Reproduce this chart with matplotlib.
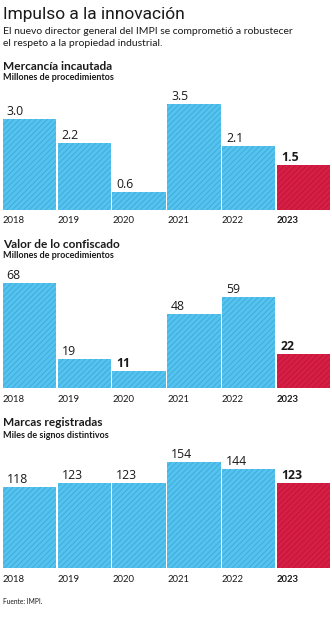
import matplotlib
matplotlib.use("Agg")
import matplotlib.pyplot as plt

years = ["2018", "2019", "2020", "2021", "2022", "2023"]
merc_vals = [3.0, 2.2, 0.6, 3.5, 2.1, 1.5]
merc_labels = ["3.0", "2.2", "0.6", "3.5", "2.1", "1.5"]
valor_vals = [68, 19, 11, 48, 59, 22]
valor_labels = ["68", "19", "11", "48", "59", "22"]
marcas_vals = [118, 123, 123, 154, 144, 123]
marcas_labels = ["118", "123", "123", "154", "144", "123"]

W, H = 332, 620
fig = plt.figure(figsize=(W / 100, H / 100), dpi=100)
fig.patch.set_facecolor("white")

BLUE = "#56c3ee"
HATCH = "#3aa9dc"
RED = "#d61f45"
RHATCH = "#c01238"
TXT = "#1a1a1a"
plt.rcParams["hatch.linewidth"] = 0.6

SANS = ["Lato", "DejaVu Sans"]
VAL = ["Open Sans", "DejaVu Sans"]


def fy(y):
    return 1 - y / H


def ftext(x, y, s, **kw):
    fig.text(x / W, fy(y), s, **kw)


ftext(3, 14, "Impulso a la innovación", fontsize=12.5, color=TXT,
      family=["Roboto", "DejaVu Sans"], va="center")
ftext(3, 31, "El nuevo director general del IMPI se comprometió a robustecer",
      fontsize=7.5, color=TXT, family=SANS, va="center")
ftext(3, 43, "el respeto a la propiedad industrial.",
      fontsize=7.5, color=TXT, family=SANS, va="center")

panels = [
    ("Mercancía incautada", "Millones de procedimientos", merc_vals, merc_labels, 66, 210, 3.5, 106),
    ("Valor de lo confiscado", "Millones de procedimientos", valor_vals, valor_labels, 244, 388, 68, 105),
    ("Marcas registradas", "Miles de signos distintivos", marcas_vals, marcas_labels, 423, 568, 154, 106),
]
bold_idx = {0: [5], 1: [2, 5], 2: [5]}

for pi, (title, sub, vals, labs, ty, base, vmax, hpx) in enumerate(panels):
    ftext(3, ty, title, fontsize=8.6, fontweight="bold", color=TXT, family=SANS, va="center")
    ftext(3, ty + 12, sub, fontsize=6.5, fontweight="bold", color=TXT, family=SANS, va="center")
    ax = fig.add_axes([2 / W, fy(base), 329 / W, hpx / H])
    ax.set_xlim(-0.5, 5.5)
    ax.set_ylim(0, vmax)
    ax.axis("off")
    colors = [BLUE] * 5 + [RED]
    hcolors = [HATCH] * 5 + [RHATCH]
    for i, v in enumerate(vals):
        ax.bar(i, v, width=0.975, color=colors[i], edgecolor=hcolors[i],
               linewidth=0, hatch="//////")
        bold = i in bold_idx[pi]
        ax.annotate(labs[i], (i - 0.4875, v), xytext=(4, 1), textcoords="offset pixels",
                    fontsize=8.8, fontweight="bold" if bold else "normal",
                    color=TXT, family=VAL, ha="left", va="bottom")
        ax.annotate(years[i], (i - 0.4875, 0), xytext=(0, -11), textcoords="offset pixels",
                    fontsize=6.8, fontweight="bold" if i == 5 else "normal",
                    color=TXT, family=SANS, ha="left", va="center")

ftext(3, 602, "Fuente: IMPI.", fontsize=4.8, color=TXT, family=SANS, va="center")

fig.savefig("out.png", dpi=100, facecolor="white")
